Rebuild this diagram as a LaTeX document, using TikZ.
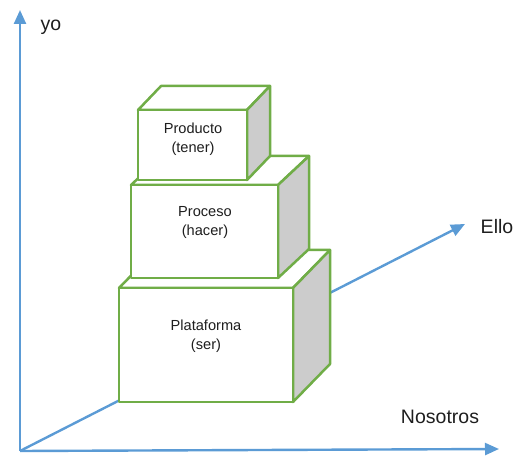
\documentclass[tikz,border=0pt]{standalone}
\usepackage{fontspec}
\setmainfont{Liberation Sans}
\usetikzlibrary{arrows.meta}
\definecolor{axisblue}{RGB}{91,155,213}
\definecolor{boxgreen}{RGB}{112,173,71}
\definecolor{sidegray}{RGB}{204,204,204}
\definecolor{txt}{RGB}{30,30,30}
\tikzset{
  axis/.style={draw=axisblue, line width=2.4pt, -{Triangle[length=14pt,width=12pt]}},
  axislabel/.style={text=txt, font=\fontsize{19.5}{22}\selectfont, inner sep=0pt},
  boxlabel/.style={text=txt, font=\fontsize{14.6}{19}\selectfont, align=center, inner sep=0pt},
  face/.style={draw=boxgreen, line width=2.5pt, line join=round, fill=white},
  sideface/.style={face, fill=sidegray},
}
% cuboid: #1 front-left x, #2 top y, #3 front-right x, #4 bottom y, #5 dx, #6 dy
\newcommand{\cuboid}[6]{%
  \path[face] (#1,#2) -- ++(#5,#6) -- (#3+#5,#2+#6) -- (#3,#2) -- cycle;
  \path[sideface] (#3,#2) -- (#3+#5,#2+#6) -- (#3+#5,#4+#6) -- (#3,#4) -- cycle;
  \path[face] (#1,#2) rectangle (#3,#4);
}
\begin{document}
\begin{tikzpicture}[x=1pt,y=-1pt]
  \useasboundingbox (0,0) rectangle (517,457);
  % axes
  \coordinate (O) at (20,451);
  \coordinate (Ytip) at (20,10);
  \coordinate (Xtip) at (499,449);
  \coordinate (Ztip) at (465,224);
  \draw[axis] (O) -- (Ytip);
  \draw[axis] (O) -- (Xtip);
  \draw[axis] (O) -- (Ztip);
  \node[axislabel] (yo) at (51,27) {yo};
  \node[axislabel] (nos) at (440,417) {Nosotros};
  \node[axislabel] (ello) at (497,227) {Ello};
  % stacked boxes
  \cuboid{119}{288}{293}{402}{37}{-38}
  \cuboid{131}{185}{278}{278}{31}{-29}
  \cuboid{138}{110}{247}{180}{23}{-24}
  \node[boxlabel] (plat) at (206,336) {Plataforma\\(ser)};
  \node[boxlabel] (proc) at (205,222) {Proceso\\(hacer)};
  \node[boxlabel] (prod) at (193,139) {Producto\\(tener)};
\end{tikzpicture}
\end{document}
